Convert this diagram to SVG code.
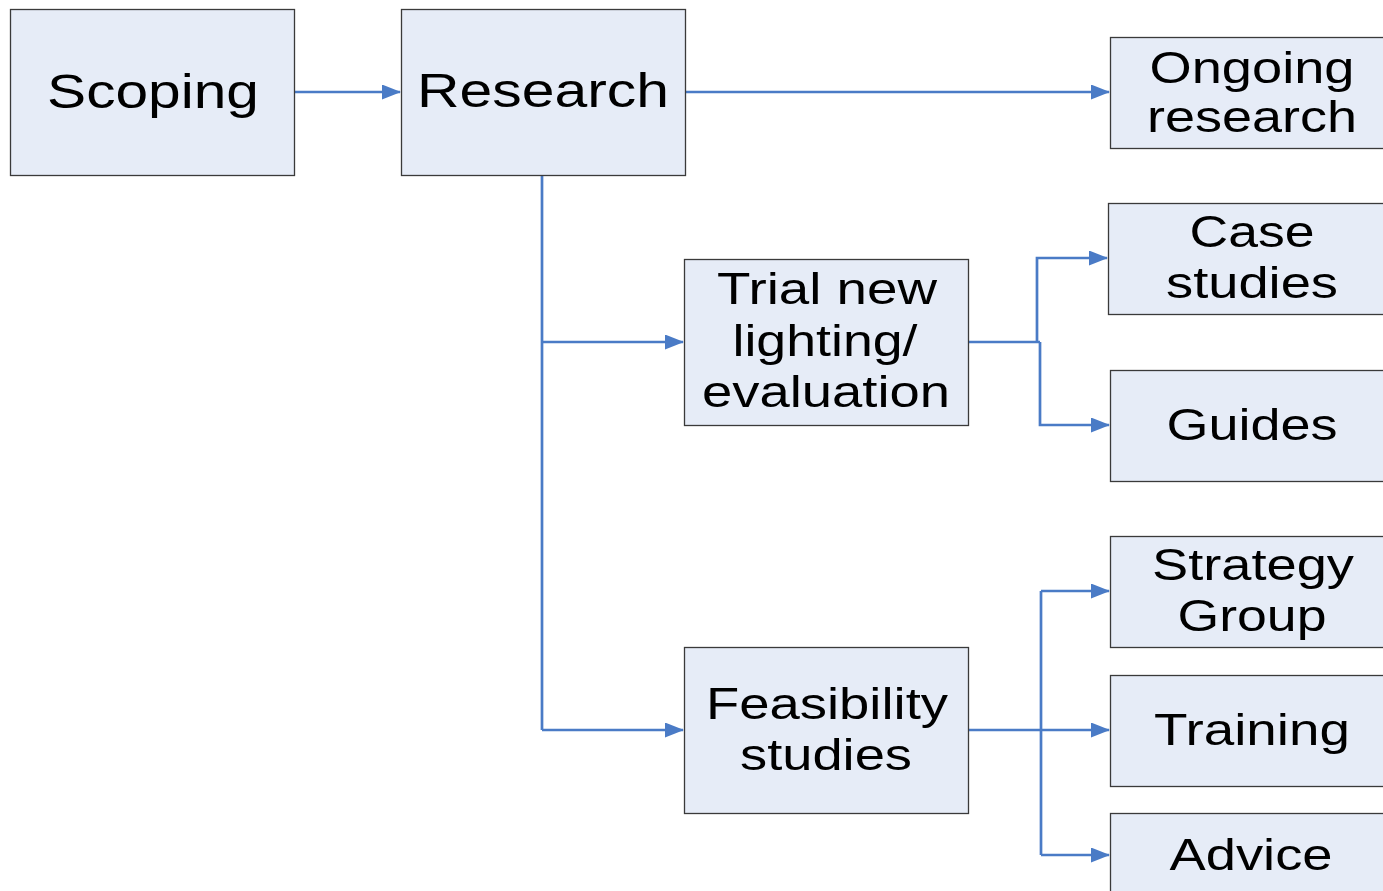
<svg xmlns="http://www.w3.org/2000/svg" width="1383" height="891" viewBox="0 0 1383 891">
<defs>
<style>
.box{fill:#E6ECF7;stroke:#3a3a3a;stroke-width:1.3}
.t{font-family:"Liberation Sans",Arial,sans-serif;fill:#000;text-anchor:middle}
.b{font-size:48px}
.s{font-size:44px}
.c{fill:none;stroke:#4A7BC6;stroke-width:2.7}
</style>
<marker id="ah" markerWidth="19" markerHeight="15" refX="18" refY="7.5" orient="auto" markerUnits="userSpaceOnUse">
<path d="M0,0 L19,7.5 L0,15 Z" fill="#4A7BC6"/>
</marker>
</defs>
<rect width="1383" height="891" fill="#fff"/>
<g id="connectors">
<path class="c" d="M294,92 H400" marker-end="url(#ah)"/>
<path class="c" d="M685,92 H1109" marker-end="url(#ah)"/>
<path class="c" d="M542,175 V730"/>
<path class="c" d="M542,342 H683" marker-end="url(#ah)"/>
<path class="c" d="M542,730 H683" marker-end="url(#ah)"/>
<path class="c" d="M968,342 H1040"/>
<path class="c" d="M1037,342 V258 H1107" marker-end="url(#ah)"/>
<path class="c" d="M1040,342 V425 H1109" marker-end="url(#ah)"/>
<path class="c" d="M968,730 H1109" marker-end="url(#ah)"/>
<path class="c" d="M1041,591 V855"/>
<path class="c" d="M1041,591 H1109" marker-end="url(#ah)"/>
<path class="c" d="M1041,855 H1109" marker-end="url(#ah)"/>
</g>
<g id="scoping">
<rect class="box" x="10.5" y="9.5" width="284" height="166"/>
<text class="t b" x="153" y="108" textLength="212" lengthAdjust="spacingAndGlyphs">Scoping</text>
</g>
<g id="research">
<rect class="box" x="401.5" y="9.5" width="284" height="166"/>
<text class="t b" x="543" y="107" textLength="252" lengthAdjust="spacingAndGlyphs">Research</text>
</g>
<g id="ongoing">
<rect class="box" x="1110.5" y="37.5" width="285" height="111"/>
<text class="t s" x="1252" y="83" textLength="205" lengthAdjust="spacingAndGlyphs">Ongoing</text>
<text class="t s" x="1252" y="132" textLength="210" lengthAdjust="spacingAndGlyphs">research</text>
</g>
<g id="trial">
<rect class="box" x="684.5" y="259.5" width="284" height="166"/>
<text class="t s" x="827" y="304" textLength="220" lengthAdjust="spacingAndGlyphs">Trial new</text>
<text class="t s" x="825" y="356" textLength="185" lengthAdjust="spacingAndGlyphs">lighting/</text>
<text class="t s" x="826" y="407" textLength="248" lengthAdjust="spacingAndGlyphs">evaluation</text>
</g>
<g id="feasibility">
<rect class="box" x="684.5" y="647.5" width="284" height="166"/>
<text class="t s" x="827" y="719" textLength="242" lengthAdjust="spacingAndGlyphs">Feasibility</text>
<text class="t s" x="826" y="770" textLength="172" lengthAdjust="spacingAndGlyphs">studies</text>
</g>
<g id="case">
<rect class="box" x="1108.5" y="203.5" width="285" height="111"/>
<text class="t s" x="1252" y="247" textLength="125" lengthAdjust="spacingAndGlyphs">Case</text>
<text class="t s" x="1252" y="298" textLength="172" lengthAdjust="spacingAndGlyphs">studies</text>
</g>
<g id="guides">
<rect class="box" x="1110.5" y="370.5" width="285" height="111"/>
<text class="t s" x="1252" y="440" textLength="171" lengthAdjust="spacingAndGlyphs">Guides</text>
</g>
<g id="strategy">
<rect class="box" x="1110.5" y="536.5" width="285" height="111"/>
<text class="t s" x="1253" y="580" textLength="202" lengthAdjust="spacingAndGlyphs">Strategy</text>
<text class="t s" x="1252" y="631" textLength="149" lengthAdjust="spacingAndGlyphs">Group</text>
</g>
<g id="training">
<rect class="box" x="1110.5" y="675.5" width="285" height="111"/>
<text class="t s" x="1252" y="745" textLength="196" lengthAdjust="spacingAndGlyphs">Training</text>
</g>
<g id="advice">
<rect class="box" x="1110.5" y="813.5" width="285" height="111"/>
<text class="t s" x="1251" y="870" textLength="163" lengthAdjust="spacingAndGlyphs">Advice</text>
</g>
</svg>
